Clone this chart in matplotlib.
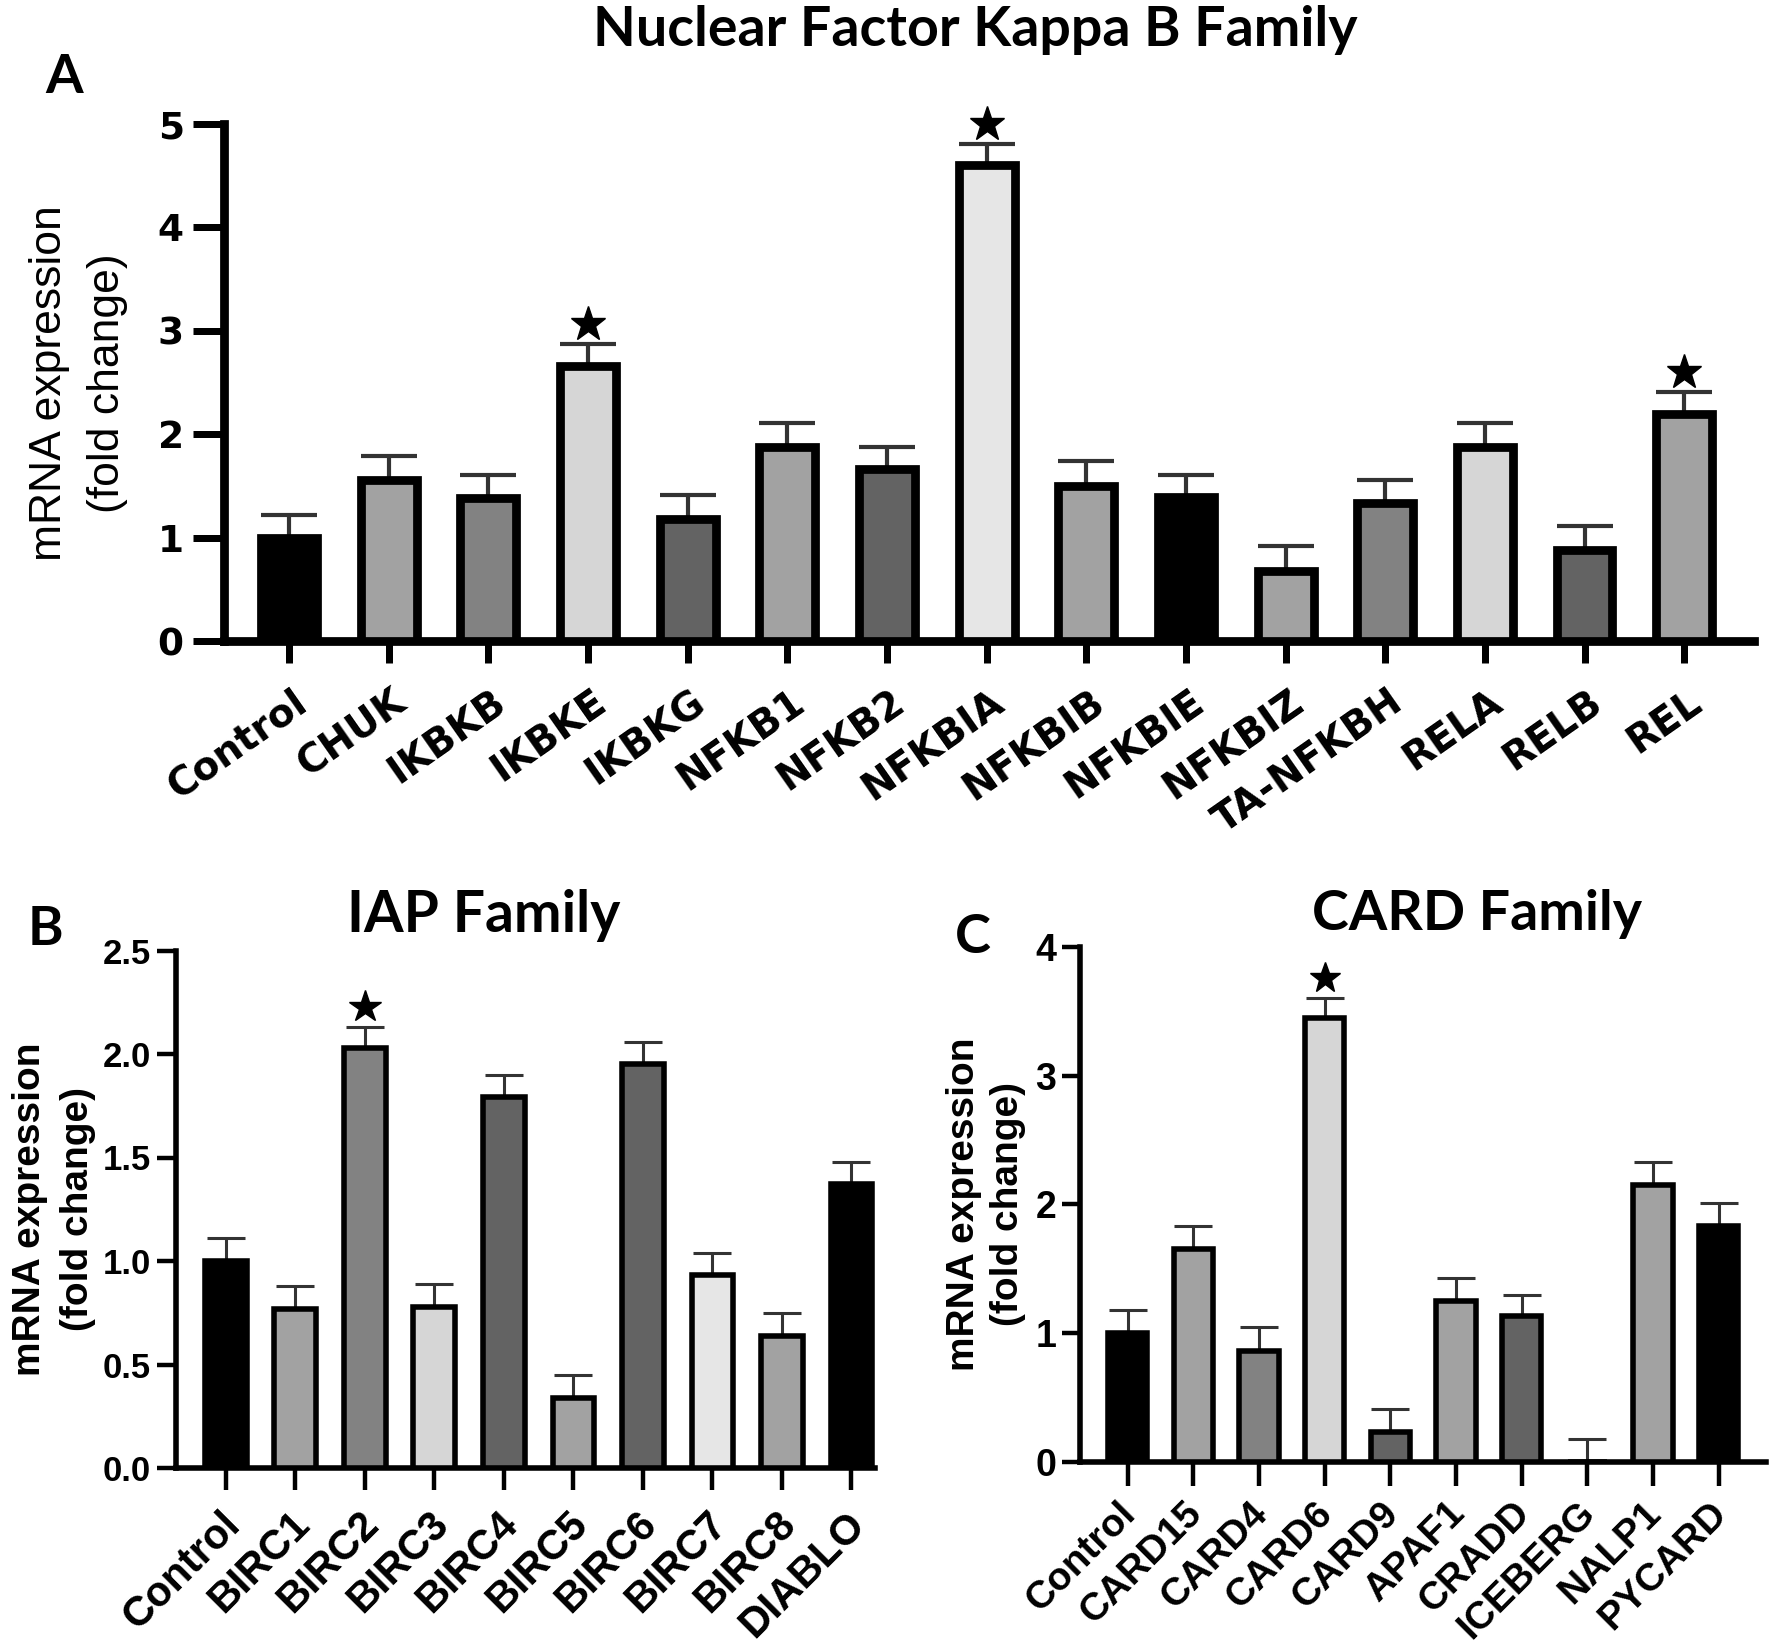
import numpy as np
import matplotlib
matplotlib.use('Agg')
import matplotlib.pyplot as plt
from matplotlib.transforms import ScaledTranslation

# --- datos (fold change, media y error) ---
nfkb_genes = ['Control', 'CHUK', 'IKBKB', 'IKBKE', 'IKBKG', 'NFKB1', 'NFKB2', 'NFKBIA',
              'NFKBIB', 'NFKBIE', 'NFKBIZ', 'TA-NFKBH', 'RELA', 'RELB', 'REL']
nfkb_mean = [1.00, 1.56, 1.38, 2.66, 1.18, 1.88, 1.66, 4.60, 1.50, 1.39, 0.68, 1.33, 1.88, 0.88, 2.20]
nfkb_err = [0.22, 0.23, 0.23, 0.21, 0.23, 0.23, 0.22, 0.21, 0.24, 0.22, 0.24, 0.23, 0.23, 0.23, 0.21]
nfkb_sig = ['IKBKE', 'NFKBIA', 'REL']

iap_genes = ['Control', 'BIRC1', 'BIRC2', 'BIRC3', 'BIRC4', 'BIRC5', 'BIRC6', 'BIRC7', 'BIRC8', 'DIABLO']
iap_mean = [1.00, 0.77, 2.03, 0.78, 1.79, 0.34, 1.95, 0.93, 0.64, 1.37]
iap_err = [0.11, 0.11, 0.10, 0.11, 0.11, 0.11, 0.11, 0.11, 0.11, 0.11]
iap_sig = ['BIRC2']

card_genes = ['Control', 'CARD15', 'CARD4', 'CARD6', 'CARD9', 'APAF1', 'CRADD', 'ICEBERG', 'NALP1', 'PYCARD']
card_mean = [1.00, 1.65, 0.86, 3.45, 0.23, 1.25, 1.13, 0.00, 2.15, 1.83]
card_err = [0.18, 0.18, 0.19, 0.15, 0.18, 0.18, 0.17, 0.18, 0.18, 0.18]
card_sig = ['CARD6']

# colores de barra (escala de grises)
K, G1, G2, G3, G4, G5 = 'black', '#a2a2a2', '#828282', '#d6d6d6', '#636363', '#e6e6e6'
nfkb_colors = [K, G1, G2, G3, G4, G1, G4, G5, G1, K, G1, G2, G3, G4, G1]
iap_colors = [K, G1, G2, G3, G4, G1, G4, G5, G1, K]
card_colors = [K, G1, G2, G3, G4, G1, G4, 'white', G1, K]

W, H = 1770, 1645
fig = plt.figure(figsize=(W / 100, H / 100), dpi=100)


def make_axes(left, right, top, bottom):
    return fig.add_axes([left / W, 1 - bottom / H, (right - left) / W, (bottom - top) / H])


def panel(ax, genes, mean, err, sig, colors, xlim, ylim, yticks, ytl, lw, bw,
          capsize, elw, xtick_len, ytick_len, yfont, yfs, ypad, xfont, xfs, rot, xdx, xpad,
          star_ms):
    x = np.arange(len(genes))
    ax.bar(x, mean, width=bw, color=colors, edgecolor='black', linewidth=lw, zorder=3)
    ax.errorbar(x, mean, yerr=[np.zeros(len(x)), err], fmt='none', ecolor='#333333',
                elinewidth=elw, capsize=capsize, capthick=elw, zorder=2)
    off = ScaledTranslation(0, 0.2, fig.dpi_scale_trans)
    for g in sig:
        i = genes.index(g)
        ax.plot(i, mean[i] + err[i], marker='*', color='black', markersize=star_ms,
                transform=ax.transData + off, clip_on=False, zorder=4)
    ax.set_xlim(*xlim)
    ax.set_ylim(*ylim)
    for s in ['top', 'right']:
        ax.spines[s].set_visible(False)
    for s in ['left', 'bottom']:
        ax.spines[s].set_linewidth(lw)
    ax.set_yticks(yticks)
    ax.set_yticklabels(ytl, fontfamily=yfont, fontweight='bold', fontsize=yfs)
    ax.tick_params(axis='y', length=ytick_len, width=lw * 0.8, pad=ypad)
    ax.set_xticks(x)
    ax.set_xticklabels(genes, rotation=rot, ha='right', va='top', rotation_mode='anchor',
                       fontfamily=xfont, fontweight='bold', fontsize=xfs)
    ax.tick_params(axis='x', length=xtick_len, width=lw * 0.8, pad=xpad)
    sh = ScaledTranslation(xdx / 100, 0, fig.dpi_scale_trans)
    for lab in ax.get_xticklabels():
        lab.set_transform(lab.get_transform() + sh)


# Panel A
axA = make_axes(224, 1754, 124, 641)
panel(axA, nfkb_genes, nfkb_mean, nfkb_err, nfkb_sig, nfkb_colors,
      (-0.653, 14.70), (0, 5), [0, 1, 2, 3, 4, 5], ['0', '1', '2', '3', '4', '5'],
      lw=6.3, bw=0.56, capsize=20, elw=3, xtick_len=16, ytick_len=22,
      yfont='DejaVu Sans', yfs=27, ypad=7, xfont='DejaVu Sans', xfs=28, rot=35, xdx=3, xpad=14,
      star_ms=26)

# Panel B
axB = make_axes(176, 875, 950.5, 1468)
panel(axB, iap_genes, iap_mean, iap_err, iap_sig, iap_colors,
      (-0.717, 9.34), (0, 2.5), [0, 0.5, 1.0, 1.5, 2.0, 2.5],
      ['0.0', '0.5', '1.0', '1.5', '2.0', '2.5'],
      lw=4, bw=0.6, capsize=14, elw=2.2, xtick_len=16, ytick_len=14,
      yfont='Liberation Sans', yfs=25, ypad=4, xfont='Liberation Sans', xfs=30, rot=45, xdx=-6, xpad=10,
      star_ms=24)

# Panel C
axC = make_axes(1080, 1766, 946.7, 1462)
panel(axC, card_genes, card_mean, card_err, card_sig, card_colors,
      (-0.727, 9.72), (0, 4), [0, 1, 2, 3, 4], ['0', '1', '2', '3', '4'],
      lw=4, bw=0.6, capsize=14, elw=2.2, xtick_len=17, ytick_len=13,
      yfont='Liberation Sans', yfs=27, ypad=4, xfont='Liberation Sans', xfs=28, rot=45, xdx=-10, xpad=7,
      star_ms=23)


def px(x, y):
    return x / W, 1 - y / H


# títulos y letras de panel
fig.text(*px(975, 46), 'Nuclear Factor Kappa B Family', fontfamily='Lato', fontweight='bold',
         fontsize=40, ha='center', va='baseline')
fig.text(*px(484, 932), 'IAP Family', fontfamily='Lato', fontweight='bold',
         fontsize=41, ha='center', va='baseline')
fig.text(*px(1477, 930), 'CARD Family', fontfamily='Lato', fontweight='bold',
         fontsize=40, ha='center', va='baseline')
fig.text(*px(45, 93), 'A', fontfamily='Lato', fontweight='bold', fontsize=39, ha='left', va='baseline')
fig.text(*px(28, 945), 'B', fontfamily='Lato', fontweight='bold', fontsize=39, ha='left', va='baseline')
fig.text(*px(955, 953), 'C', fontfamily='Lato', fontweight='bold', fontsize=39, ha='left', va='baseline')

# etiquetas del eje y
for (x1, x2, yc, wgt, fs) in [(50, 108, 383, 'normal', 32), (30, 78, 1209, 'bold', 28),
                              (964, 1008, 1204, 'bold', 28)]:
    fig.text(*px(x1, yc), 'mRNA expression', rotation=90, ha='center', va='center',
             fontfamily='Liberation Sans', fontweight=wgt, fontsize=fs)
    fig.text(*px(x2, yc), '(fold change)', rotation=90, ha='center', va='center',
             fontfamily='Liberation Sans', fontweight=wgt, fontsize=fs)

fig.savefig('out.png', dpi=100)
